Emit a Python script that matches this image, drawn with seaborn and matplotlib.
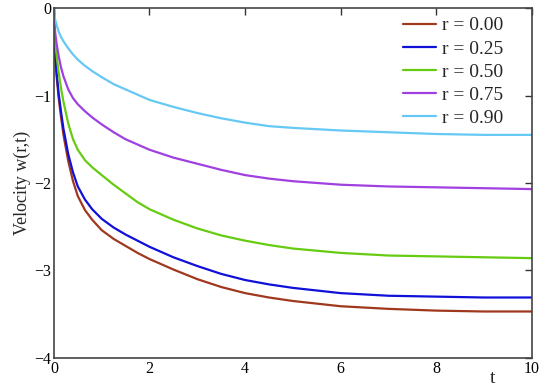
import numpy as np
import pandas as pd
import matplotlib
matplotlib.use('Agg')
import matplotlib.pyplot as plt
import seaborn as sns

# czas t
t = [0, 0.01, 0.03, 0.06, 0.1, 0.15, 0.2, 0.3, 0.4, 0.5, 0.65, 0.8, 1, 1.25, 1.5, 1.75,
     2, 2.5, 3, 3.5, 4, 4.5, 5, 6, 7, 8, 9, 10]

# predkosc w(r,t) dla kolejnych r
w_000 = [0, -0.33, -0.58, -0.80, -1.03, -1.25, -1.45, -1.75, -1.98, -2.15, -2.31, -2.42, -2.54, -2.64,
         -2.72, -2.80, -2.87, -2.99, -3.10, -3.19, -3.26, -3.31, -3.35, -3.41, -3.44, -3.46, -3.47, -3.47]
w_025 = [0, -0.31, -0.55, -0.76, -0.98, -1.19, -1.38, -1.67, -1.88, -2.04, -2.19, -2.30, -2.41, -2.51,
         -2.59, -2.66, -2.73, -2.85, -2.95, -3.04, -3.11, -3.16, -3.20, -3.26, -3.29, -3.30, -3.31, -3.31]
w_050 = [0, -0.22, -0.40, -0.56, -0.74, -0.92, -1.07, -1.32, -1.50, -1.62, -1.74, -1.82, -1.91, -2.02,
         -2.12, -2.22, -2.30, -2.42, -2.52, -2.60, -2.66, -2.71, -2.75, -2.80, -2.83, -2.84, -2.85, -2.86]
w_075 = [0, -0.17, -0.30, -0.42, -0.55, -0.68, -0.78, -0.93, -1.03, -1.10, -1.18, -1.25, -1.33, -1.42,
         -1.50, -1.56, -1.62, -1.71, -1.78, -1.85, -1.91, -1.95, -1.98, -2.02, -2.04, -2.05, -2.06, -2.07]
w_090 = [0, -0.08, -0.14, -0.20, -0.27, -0.33, -0.38, -0.46, -0.53, -0.59, -0.66, -0.72, -0.79, -0.87,
         -0.93, -0.99, -1.05, -1.13, -1.20, -1.26, -1.31, -1.35, -1.37, -1.40, -1.42, -1.44, -1.45, -1.45]

labels = ['r = 0.00', 'r = 0.25', 'r = 0.50', 'r = 0.75', 'r = 0.90']
colors = ['#A0381E', '#1010D8', '#66CC11', '#A040E0', '#66C8F4']

df = pd.DataFrame({'t': t * 5,
                   'w': w_000 + w_025 + w_050 + w_075 + w_090,
                   'r': [l for l in labels for _ in t]})

sns.set_style('white')
plt.rcParams['font.family'] = ['Liberation Serif', 'DejaVu Serif']

fig = plt.figure(figsize=(5.5, 3.86), dpi=100)
ax = fig.add_axes([0.098, 0.073, 0.869, 0.906])

sns.lineplot(data=df, x='t', y='w', hue='r', palette=colors, linewidth=1.6, ax=ax)

ax.set_xlim(0, 10)
ax.set_ylim(-4, 0)
ax.set_xticks([0, 2, 4, 6, 8, 10])
ax.set_yticks([-4, -3, -2, -1, 0])
ax.tick_params(direction='in', length=5, width=1, top=True, right=True,
               labelsize=11.5, colors='#333333', labelcolor='black', pad=2)
for s in ax.spines.values():
    s.set_color('#444444')
    s.set_linewidth(1.2)

ax.set_ylabel('Velocity w(r,t)', fontsize=13, labelpad=2)
ax.set_xlabel('t', fontsize=14)
ax.xaxis.set_label_coords(0.918, -0.035)

leg = ax.legend(loc='upper right', bbox_to_anchor=(0.94, 0.975), frameon=False,
                fontsize=14, handlelength=1.7, labelspacing=0.28, handletextpad=0.3,
                borderaxespad=0, borderpad=0)

plt.savefig('out.png', dpi=100)
